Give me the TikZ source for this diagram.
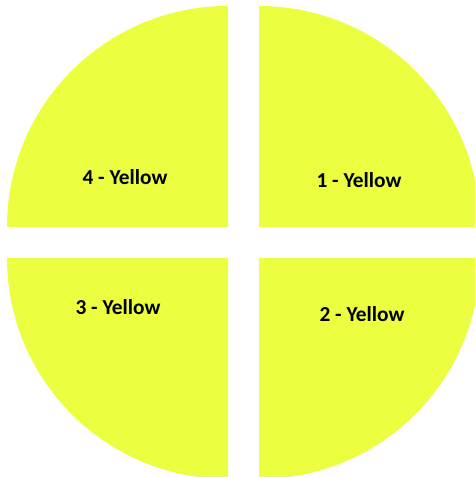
\documentclass[tikz,border=0pt]{standalone}
\usepackage{fontspec}
\setmainfont{Carlito}
\usetikzlibrary{positioning}
\definecolor{lemon}{RGB}{235,255,64}

\begin{document}
\begin{tikzpicture}[x=0.75pt,y=0.75pt,
  quarter/.style={fill=lemon},
  every node/.style={font=\bfseries\fontsize{16}{19}\selectfont}]
  \clip (0,0) rectangle (475,477);
  \fill[white] (0,0) rectangle (475,477);
  % corner x / corner y / start angle of each quarter
  \foreach \cx/\cy/\a in {228/250/180,259/250/90,259/219/0,228/219/270}{
    \fill[quarter] (\cx,\cy) -- ++(\a:221) arc[start angle=\a,end angle=\a-90,radius=221] -- cycle;
  }
  \node (q4) at (125,300) {4 - Yellow};
  \node (q1) at (359,297) {1 - Yellow};
  \node (q3) at (118,170) {3 - Yellow};
  \node (q2) at (362,163) {2 - Yellow};
\end{tikzpicture}
\end{document}
